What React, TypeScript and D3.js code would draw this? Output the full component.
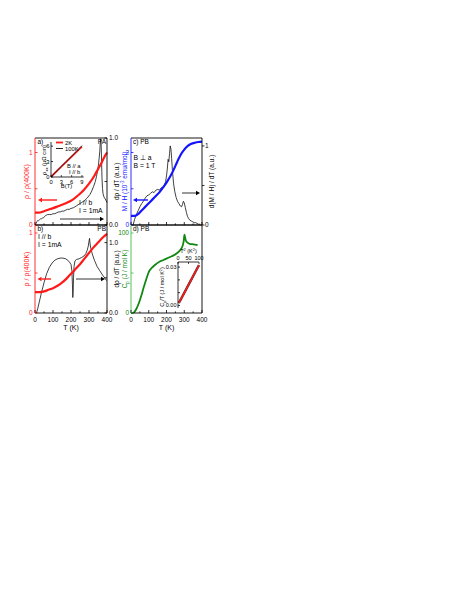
// Four-panel transport / magnetisation / heat capacity figure
// drawn with D3 into one fixed-size svg

import React, { useRef, useEffect } from 'react';
import * as d3 from 'd3';

// ---- panel a (PA) ----
const rhoA_T = [0, 20, 50, 85, 120, 150, 180, 210, 240, 270, 300, 330, 350, 370, 390, 400];
const rhoA = [0.17, 0.17, 0.19, 0.22, 0.25, 0.28, 0.31, 0.35, 0.41, 0.48, 0.57, 0.68, 0.77, 0.86, 0.96, 1.0];
const dRhoA_T = [2, 6, 10, 15, 20, 25, 30, 35, 40, 45, 50, 55, 60, 70, 80, 90, 100, 110, 120, 130,
  140, 150, 160, 170, 180, 190, 200, 215, 230, 245, 260, 275, 290, 305, 315, 325, 335, 342, 348, 353,
  357, 360, 362, 364, 366, 368, 370, 372, 375, 378, 382, 386, 390, 395, 400];
const dRhoA = [0.0, 0.02, 0.04, 0.05, 0.05, 0.06, 0.07, 0.07, 0.08, 0.08, 0.09, 0.1, 0.11, 0.12, 0.12, 0.12, 0.13, 0.13, 0.14, 0.15,
  0.15, 0.16, 0.16, 0.17, 0.18, 0.18, 0.19, 0.2, 0.22, 0.24, 0.26, 0.28, 0.31, 0.35, 0.39, 0.44, 0.5, 0.56, 0.63, 0.7,
  0.78, 0.85, 0.92, 0.99, 0.97, 0.9, 0.72, 0.55, 0.42, 0.36, 0.33, 0.31, 0.3, 0.28, 0.26];

// inset of a: rho_xx vs field
const insetB = [0, 3, 6, 9];
const rhoXX2K = [0.05, 2.0, 3.95, 5.9];
const rhoXX100K = [0, 2.05, 4.05, 6.1];
const insetBTicks = [0, 3, 6, 9];
const insetRhoTicks = [0, 3, 6];

// ---- panel b (PB) ----
const rhoB_T = [0, 25, 50, 75, 100, 125, 150, 175, 200, 210, 225, 250, 275, 300, 325, 350, 375, 400];
const rhoB = [0.26, 0.26, 0.27, 0.29, 0.31, 0.34, 0.38, 0.43, 0.49, 0.51, 0.55, 0.61, 0.68, 0.75, 0.82, 0.88, 0.94, 0.99];
const dRhoB_T = [8, 15, 25, 35, 50, 65, 80, 95, 110, 125, 140, 155, 170, 182, 192, 200, 205, 208, 210, 212,
  214, 217, 222, 230, 245, 260, 272, 282, 290, 296, 300, 303, 306, 310, 318, 330, 345, 360, 375, 390, 398];
const dRhoB = [0.0, 0.06, 0.17, 0.28, 0.43, 0.56, 0.65, 0.71, 0.75, 0.77, 0.78, 0.78, 0.77, 0.75, 0.72, 0.69, 0.6, 0.4, 0.22, 0.3,
  0.5, 0.66, 0.74, 0.76, 0.77, 0.79, 0.81, 0.84, 0.89, 0.95, 1.02, 1.06, 0.98, 0.92, 0.84, 0.75, 0.66, 0.6, 0.54, 0.49, 0.46];

// ---- panel c (PB, B ⊥ a) ----
const mhT = [0, 20, 40, 60, 80, 100, 120, 140, 160, 180, 200, 220, 240, 260, 280, 300, 320, 340, 360, 380, 400];
const mh = [0.25, 0.25, 0.3, 0.4, 0.5, 0.6, 0.7, 0.8, 0.9, 1.03, 1.17, 1.33, 1.52, 1.74, 1.94, 2.08, 2.18, 2.24, 2.27, 2.29, 2.3];
const dMH_T = [12, 20, 30, 40, 50, 60, 70, 80, 90, 100, 110, 120, 130, 140, 150, 160, 170, 180, 188, 195,
  200, 205, 209, 213, 217, 221, 225, 229, 234, 240, 247, 254, 262, 270, 278, 285, 290, 295, 300, 306,
  312, 318, 325, 332, 340, 348, 356, 364, 372, 380, 390];
const dMH = [0.0, 0.07, 0.13, 0.18, 0.23, 0.27, 0.3, 0.34, 0.37, 0.38, 0.4, 0.42, 0.41, 0.44, 0.45, 0.44, 0.47, 0.48, 0.5, 0.55,
  0.62, 0.72, 0.83, 0.8, 0.9, 1.0, 0.96, 0.84, 0.67, 0.52, 0.42, 0.35, 0.3, 0.27, 0.24, 0.23, 0.26, 0.3, 0.28, 0.22,
  0.16, 0.11, 0.08, 0.06, 0.05, 0.04, 0.03, 0.03, 0.02, 0.01, 0.01];

// ---- panel d (PB) heat capacity ----
const cpT = [0, 10, 20, 30, 40, 50, 60, 70, 80, 90, 100, 120, 140, 160, 180, 200, 220, 240, 260, 275,
  285, 292, 297, 301, 304, 310, 318, 330, 345, 360, 375];
const cp = [0, 0.3, 1.5, 5, 10, 16, 23, 31, 38, 45, 51, 57, 61, 64, 66, 68, 70, 72, 75, 78,
  81, 85, 90, 98, 95, 90, 88, 86.5, 86, 85.5, 85];
// inset of d: Cp/T vs T^2
const t2 = [4, 10, 20, 30, 40, 50, 60, 70, 80, 90, 100];
const cpOverT = [0.002, 0.0038, 0.0068, 0.0099, 0.013, 0.0161, 0.0192, 0.0223, 0.0254, 0.0285, 0.0316];
const t2Ticks = [0, 50, 100];

const xTicks = [0, 100, 200, 300, 400];
const xMinor = [50, 150, 250, 350];

const FONT = '"Liberation Sans", Arial, sans-serif';
const RED = '#ff1a1a';
const BLUE = '#1414ff';
const GREEN = '#118811';
const GREEN_AX = '#44bb44';

type Sel = d3.Selection<any, unknown, null, undefined>;
type Part = [string, 'n' | 'sub' | 'sup'];

function rich(g: Sel, x: number, y: number, parts: Part[], size: number, color: string, anchor = 'start', rot = 0) {
  const t = g.append('text')
    .attr('font-family', FONT)
    .attr('font-size', size)
    .attr('fill', color)
    .attr('text-anchor', anchor);
  if (rot) t.attr('transform', `translate(${x},${y}) rotate(${rot})`);
  else t.attr('x', x).attr('y', y);
  let shift = 0;
  parts.forEach(([s, k]) => {
    const target = k === 'sub' ? size * 0.3 : k === 'sup' ? -size * 0.4 : 0;
    t.append('tspan')
      .attr('dy', target - shift)
      .attr('font-size', k === 'n' ? size : size * 0.7)
      .text(s);
    shift = target;
  });
  return t;
}

function curve(g: Sel, xs: number[], ys: number[], x: any, y: any, color: string, w: number, smooth = true) {
  const pts = xs.map((v, i) => [v, ys[i]] as [number, number]);
  const line = d3.line<[number, number]>()
    .x(d => x(d[0]))
    .y(d => y(d[1]))
    .curve(smooth ? d3.curveMonotoneX : d3.curveLinear);
  g.append('path')
    .attr('d', line(pts))
    .attr('fill', 'none')
    .attr('stroke', color)
    .attr('stroke-width', w)
    .attr('stroke-linejoin', 'round');
}

function arrow(g: Sel, x1: number, x2: number, y: number, color: string, w: number) {
  const dir = Math.sign(x2 - x1);
  const hl = 4, hw = 2.2;
  g.append('line')
    .attr('x1', x1).attr('x2', x2 - dir * hl).attr('y1', y).attr('y2', y)
    .attr('stroke', color).attr('stroke-width', w);
  g.append('path')
    .attr('d', `M${x2},${y}L${x2 - dir * hl},${y - hw}L${x2 - dir * hl},${y + hw}Z`)
    .attr('fill', color);
}

function frame(g: Sel, x0: number, x1: number, y0: number, y1: number, leftColor: string) {
  const seg = (a: number, b: number, c: number, d: number, col: string) =>
    g.append('line').attr('x1', a).attr('y1', b).attr('x2', c).attr('y2', d)
      .attr('stroke', col).attr('stroke-width', 0.9);
  seg(x0, y0, x1, y0, '#000');
  seg(x0, y1, x1, y1, '#000');
  seg(x1, y0, x1, y1, '#000');
  seg(x0, y0, x0, y1, leftColor);
}

function xTickMarks(g: Sel, x: any, yBase: number) {
  xTicks.forEach(v => g.append('line').attr('x1', x(v)).attr('x2', x(v))
    .attr('y1', yBase).attr('y2', yBase - 3).attr('stroke', '#000').attr('stroke-width', 0.8));
  xMinor.forEach(v => g.append('line').attr('x1', x(v)).attr('x2', x(v))
    .attr('y1', yBase).attr('y2', yBase - 1.6).attr('stroke', '#000').attr('stroke-width', 0.8));
}

function yTickMarks(g: Sel, y: any, xBase: number, vals: number[], len: number, color: string) {
  vals.forEach(v => g.append('line').attr('x1', xBase).attr('x2', xBase + len)
    .attr('y1', y(v)).attr('y2', y(v)).attr('stroke', color).attr('stroke-width', 0.8));
}

function yLabels(g: Sel, y: any, x: number, vals: number[], fmt: (v: number) => string, color: string, anchor: string, size = 6.5) {
  vals.forEach(v => g.append('text')
    .attr('x', x).attr('y', y(v)).attr('dy', '0.35em')
    .attr('font-family', FONT).attr('font-size', size)
    .attr('fill', color).attr('text-anchor', anchor)
    .text(fmt(v)));
}

export default function App() {
  const svgRef = useRef<SVGSVGElement>(null);

  useEffect(() => {
    if (!svgRef.current) return;
    const svg = d3.select(svgRef.current);
    svg.selectAll('*').remove();
    const g: Sel = svg.append('g');

    // geometry
    const xL = d3.scaleLinear().domain([0, 400]).range([35, 107]);
    const xR = d3.scaleLinear().domain([0, 400]).range([131, 202]);
    const top = 138, mid = 225, bot = 313;

    const yRhoA = d3.scaleLinear().domain([0, 1.2]).range([mid, top]);
    const yDA = d3.scaleLinear().domain([0, 1.0]).range([mid, top]);
    const yRhoB = d3.scaleLinear().domain([0, 1.1]).range([bot, mid]);
    const yDB = d3.scaleLinear().domain([0, 1.25]).range([bot, mid]);
    const yMH = d3.scaleLinear().domain([0, 2.4]).range([mid, top]);
    const yDM = d3.scaleLinear().domain([0, 1.1]).range([mid, top]);
    const yCp = d3.scaleLinear().domain([0, 110]).range([bot, mid]);

    // ---------- panel a ----------
    curve(g, dRhoA_T, dRhoA, xL, yDA, '#111', 0.8, false);
    curve(g, rhoA_T, rhoA, xL, yRhoA, RED, 2.2);

    // inset a
    const xB = d3.scaleLinear().domain([0, 9.5]).range([51, 83.7]);
    const yXX = d3.scaleLinear().domain([0, 6.8]).range([177, 142]);
    curve(g, insetB, rhoXX2K, xB, yXX, RED, 1.8, false);
    curve(g, insetB, rhoXX100K, xB, yXX, '#222', 0.9, false);
    g.append('line').attr('x1', xB(0)).attr('x2', xB(9.5)).attr('y1', yXX(0)).attr('y2', yXX(0)).attr('stroke', '#000').attr('stroke-width', 0.8);
    g.append('line').attr('x1', xB(0)).attr('x2', xB(0)).attr('y1', yXX(0)).attr('y2', yXX(6.8)).attr('stroke', '#000').attr('stroke-width', 0.8);
    insetBTicks.forEach(v => {
      g.append('line').attr('x1', xB(v)).attr('x2', xB(v)).attr('y1', yXX(0)).attr('y2', yXX(0) - 2).attr('stroke', '#000').attr('stroke-width', 0.7);
      g.append('text').attr('x', xB(v)).attr('y', yXX(0) + 6.5).attr('text-anchor', 'middle')
        .attr('font-family', FONT).attr('font-size', 5.8).text(String(v));
    });
    yTickMarks(g, yXX, xB(0), insetRhoTicks, 2, '#000');
    yLabels(g, yXX, xB(0) - 1.5, insetRhoTicks, v => String(v), '#000', 'end', 5.8);
    rich(g, 46, 160, [['ρ', 'n'], ['xx', 'sub'], [' (μΩ cm)', 'n']], 5.8, '#000', 'middle', -90);
    rich(g, xB(4.5), 188, [['B(T)', 'n']], 5.8, '#000', 'middle');
    g.append('line').attr('x1', 56).attr('x2', 63).attr('y1', 142.5).attr('y2', 142.5).attr('stroke', RED).attr('stroke-width', 1.8);
    g.append('line').attr('x1', 56).attr('x2', 63).attr('y1', 148.5).attr('y2', 148.5).attr('stroke', '#222').attr('stroke-width', 1);
    rich(g, 65, 144.5, [['2K', 'n']], 5.8, '#000');
    rich(g, 65, 150.5, [['100K', 'n']], 5.8, '#000');
    rich(g, 67, 168, [['B // a', 'n']], 5.8, '#000');
    rich(g, 69, 174, [['I // b', 'n']], 5.8, '#000');

    frame(g, 35, 107, top, mid, RED);
    xTickMarks(g, xL, mid);
    yTickMarks(g, yRhoA, 35, [0, 0.5, 1], 2.5, RED);
    yTickMarks(g, yDA, 107, [0, 0.5, 1], -2.5, '#000');
    yLabels(g, yRhoA, 32.5, [0, 1], v => String(v), RED, 'end');
    yLabels(g, yDA, 109, [0, 1], v => v.toFixed(1), '#000', 'start');
    rich(g, 37.5, 144, [['a)', 'n']], 6.5, '#000');
    rich(g, 106, 144, [['PA', 'n']], 6.5, '#000', 'end');
    rich(g, 79, 205, [['I // b', 'n']], 6.8, '#000');
    rich(g, 79, 213, [['I = 1mA', 'n']], 6.8, '#000');
    arrow(g, 57, 38, 200, RED, 1.4);
    arrow(g, 60, 104, 219, '#000', 0.8);
    rich(g, 29, (top + mid) / 2, [['ρ / ρ(400K)', 'n']], 7, RED, 'middle', -90);
    rich(g, 119, (top + mid) / 2, [['dρ / dT (a.u.)', 'n']], 6.5, '#000', 'middle', -90);

    // ---------- panel b ----------
    curve(g, dRhoB_T, dRhoB, xL, yDB, '#111', 0.8, false);
    curve(g, rhoB_T, rhoB, xL, yRhoB, RED, 2.2);
    frame(g, 35, 107, mid, bot, RED);
    xTickMarks(g, xL, bot);
    yTickMarks(g, yRhoB, 35, [0, 0.5, 1], 2.5, RED);
    yTickMarks(g, yDB, 107, [0, 0.5, 1], -2.5, '#000');
    yLabels(g, yRhoB, 32.5, [0, 1], v => String(v), RED, 'end');
    yLabels(g, yDB, 109, [0, 1], v => v.toFixed(1), '#000', 'start');
    rich(g, 37.5, 231, [['b)', 'n']], 6.5, '#000');
    rich(g, 106, 231, [['PB', 'n']], 6.5, '#000', 'end');
    rich(g, 38, 239, [['I // b', 'n']], 6.8, '#000');
    rich(g, 38, 247, [['I = 1mA', 'n']], 6.8, '#000');
    arrow(g, 51, 37.5, 279, RED, 1.4);
    arrow(g, 76, 105, 279, '#000', 0.8);
    rich(g, 29, (mid + bot) / 2, [['ρ / ρ(400K)', 'n']], 7, RED, 'middle', -90);
    rich(g, 119, (mid + bot) / 2, [['dρ / dT (a.u.)', 'n']], 6.5, '#000', 'middle', -90);
    xTicks.forEach(v => g.append('text').attr('x', xL(v)).attr('y', bot + 8.5).attr('text-anchor', 'middle')
      .attr('font-family', FONT).attr('font-size', 6.5).text(String(v)));
    rich(g, xL(200), bot + 16.5, [['T (K)', 'n']], 7, '#000', 'middle');

    // ---------- panel c ----------
    curve(g, dMH_T, dMH, xR, yDM, '#111', 0.8, false);
    curve(g, mhT, mh, xR, yMH, BLUE, 2.2);
    frame(g, 131, 202, top, mid, BLUE);
    xTickMarks(g, xR, mid);
    yTickMarks(g, yMH, 131, [0, 1, 2], 2.5, BLUE);
    yTickMarks(g, yDM, 202, [0, 0.5, 1], 2.5, '#000');
    yLabels(g, yMH, 129, [0, 2], v => String(v), BLUE, 'end');
    yLabels(g, yDM, 205, [0, 1], v => String(v), '#000', 'start');
    rich(g, 133, 144, [['c) PB', 'n']], 6.5, '#000');
    rich(g, 133.5, 160, [['B ⊥ a', 'n']], 6.8, '#000');
    rich(g, 133.5, 168, [['B = 1 T', 'n']], 6.8, '#000');
    arrow(g, 148, 133, 200, BLUE, 1.4);
    arrow(g, 182, 200, 193, '#000', 0.8);
    rich(g, 127, (top + mid) / 2, [['M / H (10', 'n'], ['-3', 'sup'], [' emu/mol)', 'n']], 6.5, BLUE, 'middle', -90);
    rich(g, 214, (top + mid) / 2, [['d(M / H) / dT (a.u.)', 'n']], 6.5, '#000', 'middle', -90);

    // ---------- panel d ----------
    curve(g, cpT, cp, xR, yCp, GREEN, 1.8);
    frame(g, 131, 202, mid, bot, GREEN_AX);
    xTickMarks(g, xR, bot);
    yTickMarks(g, yCp, 131, [0, 50, 100], 2.5, GREEN_AX);
    yLabels(g, yCp, 129, [0, 100], v => String(v), GREEN, 'end');
    rich(g, 133, 231, [['d) PB', 'n']], 6.5, '#000');
    rich(g, 127, (mid + bot) / 2, [['C', 'n'], ['p', 'sub'], [' (J / mol K)', 'n']], 6.5, GREEN, 'middle', -90);
    xTicks.forEach(v => g.append('text').attr('x', xR(v)).attr('y', bot + 8.5).attr('text-anchor', 'middle')
      .attr('font-family', FONT).attr('font-size', 6.5).text(String(v)));
    rich(g, xR(200), bot + 16.5, [['T (K)', 'n']], 7, '#000', 'middle');

    // inset d
    const xT2 = d3.scaleLinear().domain([0, 100]).range([178, 199]);
    const yCT = d3.scaleLinear().domain([-0.002, 0.034]).range([308, 262]);
    curve(g, t2, cpOverT, xT2, yCT, '#333', 2.4, true);
    curve(g, t2, cpOverT, xT2, yCT, RED, 1.6, true);
    g.append('line').attr('x1', xT2(0)).attr('x2', xT2(100)).attr('y1', 262).attr('y2', 262).attr('stroke', '#000').attr('stroke-width', 0.8);
    g.append('line').attr('x1', xT2(0)).attr('x2', xT2(0)).attr('y1', 262).attr('y2', 308).attr('stroke', '#000').attr('stroke-width', 0.8);
    t2Ticks.forEach(v => {
      g.append('line').attr('x1', xT2(v)).attr('x2', xT2(v)).attr('y1', 262).attr('y2', 264).attr('stroke', '#000').attr('stroke-width', 0.7);
      g.append('text').attr('x', xT2(v)).attr('y', 259.5).attr('text-anchor', 'middle')
        .attr('font-family', FONT).attr('font-size', 5.5).text(String(v));
    });
    yTickMarks(g, yCT, xT2(0), [0, 0.01, 0.02, 0.03], 2, '#000');
    yLabels(g, yCT, xT2(0) - 1.5, [0, 0.03], v => v.toFixed(2), '#000', 'end', 5.5);
    rich(g, xT2(50), 253, [['T', 'n'], ['2', 'sup'], [' (K', 'n'], ['2', 'sup'], [')', 'n']], 5.5, '#000', 'middle');
    rich(g, 164, 287, [['C', 'n'], ['p', 'sub'], ['/T (J / mol K', 'n'], ['2', 'sup'], [')', 'n']], 5.5, '#000', 'middle', -90);
  }, []);

  return (
    <svg
      ref={svgRef}
      width={471}
      height={609}
      style={{ position: 'absolute', left: 0, top: 0, background: '#fff', display: 'block' }}
    />
  );
}
